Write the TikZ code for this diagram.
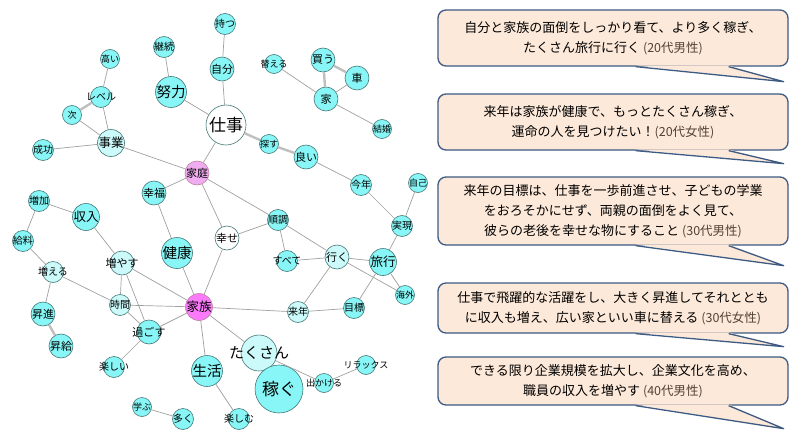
\documentclass[tikz,border=0pt]{standalone}
\usepackage{fontspec}
\setmainfont{Noto Sans CJK JP}
\usetikzlibrary{calc}
\definecolor{cyanfill}{RGB}{136,246,246}
\definecolor{palecyan}{RGB}{204,250,250}
\definecolor{nodeline}{RGB}{70,120,120}
\definecolor{rosefill}{RGB}{240,172,240}
\definecolor{magfill}{RGB}{250,122,250}
\definecolor{edgecol}{RGB}{160,160,160}
\definecolor{peach}{RGB}{253,233,217}
\definecolor{noteline}{RGB}{60,90,130}
\definecolor{tagcol}{RGB}{80,66,52}
\tikzstyle{word} = [circle, draw=nodeline, fill=cyanfill, inner sep=0pt, line width=0.6pt, execute at begin node={\hbox to 0pt\bgroup\hss}, execute at end node={\hss\egroup}]
\tikzstyle{w-a} = [minimum size=19pt, font=\fontsize{9}{10}\selectfont]
\tikzstyle{w-b} = [minimum size=21pt, font=\fontsize{10}{11}\selectfont]
\tikzstyle{w-c} = [minimum size=24pt, font=\fontsize{11}{12}\selectfont]
\tikzstyle{w-d} = [minimum size=27pt, font=\fontsize{12.5}{13}\selectfont]
\tikzstyle{w-e} = [minimum size=31pt, font=\fontsize{14.5}{15}\selectfont]
\tikzstyle{w-f} = [minimum size=36pt, font=\fontsize{15}{16}\selectfont]
\tikzstyle{w-g} = [minimum size=40pt, font=\fontsize{17}{18}\selectfont]
\tikzstyle{w-h} = [minimum size=48pt, font=\fontsize{17}{18}\selectfont]
\tikzstyle{pale} = [fill=palecyan]
\tikzstyle{blank} = [fill=white]
\tikzstyle{rose} = [fill=rosefill, draw=black!45!magenta!60]
\tikzstyle{mag} = [fill=magfill, draw=black!45!magenta!60]
\tikzstyle{line} = [draw, edgecol, line width=0.7pt]
\tikzstyle{strong} = [draw, black!25, line width=2.4pt]
\tikzstyle{note} = [rectangle, draw=noteline, fill=peach, line width=1.3pt, rounded corners=8pt, minimum width=350pt, align=center, font=\fontsize{13}{20}\selectfont]
\newcommand{\agetag}[1]{{\color{tagcol}\fontsize{12.5}{20}\selectfont(#1)}}
\newcommand{\calltip}[2]{%
  \fill [peach] ($(#1.south east)+(-153,-1.2)$) -- ($(#1.south east)+(-5,#2)$) -- ($(#1.south east)+(-60,-1.2)$) -- cycle;
  \draw [noteline, line width=1.3pt, line join=round] ($(#1.south east)+(-153,0)$) -- ($(#1.south east)+(-5,#2)$) -- ($(#1.south east)+(-60,0)$);}

\begin{document}
\begin{tikzpicture}[x=1pt, y=-1pt]
	\useasboundingbox (0,0) rectangle (793,439);
	% Upper left
	\node [word, w-a] (takai) at (110,59) {高い};
	\node [word, w-b] (level) at (101,97) {レベル};
	\node [word, w-a] (tsugi) at (72,115) {次};
	\node [word, w-d, pale] (jigyo) at (111,143) {事業};
	\node [word, w-b] (seiko) at (43,150) {成功};
	\node [word, w-b] (keizoku) at (164,47) {継続};
	\node [word, w-e] (doryoku) at (171,92) {努力};
	\node [word, w-b] (motsu) at (225,24) {持つ};
	\node [word, w-c] (jibun) at (222,69) {自分};
	\node [word, w-g, blank] (shigoto) at (226,125) {仕事};
	
	% Upper right
	\node [word, w-a] (kaeru) at (274,64) {替える};
	\node [word, w-c] (kau) at (323,60) {買う};
	\node [word, w-c] (kuruma) at (357,78) {車};
	\node [word, w-c] (ie) at (326,99) {家};
	\node [word, w-a] (kekkon) at (382,129) {結婚};
	\node [word, w-a] (sagasu) at (269,144) {探す};
	\node [word, w-c] (yoi) at (306,157) {良い};
	\node [word, w-b] (kotoshi) at (361,185) {今年};
	\node [word, w-a] (jiko) at (418,183) {自己};
	\node [word, w-b] (jitsugen) at (402,226) {実現};
	
	% Middle
	\node [word, w-c, rose] (katei) at (197,173) {家庭};
	\node [word, w-c] (kofuku) at (154,193) {幸福};
	\node [word, w-b] (juncho) at (278,220) {順調};
	\node [word, w-c, blank] (shiawase) at (227,238) {幸せ};
	\node [word, w-e] (kenko) at (177,253) {健康};
	\node [word, w-b] (subete) at (287,261) {すべて};
	\node [word, w-c, pale] (iku) at (337,257) {行く};
	\node [word, w-d] (ryoko) at (383,262) {旅行};
	\node [word, w-a] (kaigai) at (405,295) {海外};
	\node [word, w-b] (mokuhyo) at (354,308) {目標};
	\node [word, w-b, pale] (rainen) at (298,312) {来年};
	\node [word, w-d, mag] (kazoku) at (199,307) {家族};
	
	% Lower left
	\node [word, w-b] (zoka) at (39,201) {増加};
	\node [word, w-d] (shunyu) at (86,217) {収入};
	\node [word, w-b] (kyuryo) at (23,241) {給料};
	\node [word, w-b, pale] (fueru) at (53,272) {増える};
	\node [word, w-c, pale] (fuyasu) at (122,263) {増やす};
	\node [word, w-b, pale] (jikan) at (120,305) {時間};
	\node [word, w-c] (sugosu) at (149,332) {過ごす};
	\node [word, w-c] (shoshin) at (43,314) {昇進};
	\node [word, w-c] (shokyu) at (61,346) {昇給};
	\node [word, w-b] (tanoshii) at (114,367) {楽しい};
	\node [word, w-a] (manabu) at (142,407) {学ぶ};
	\node [word, w-b] (ooku) at (183,419) {多く};
	
	% Lower right
	\node [word, w-f, pale] (takusan) at (259,353) {たくさん};
	\node [word, w-h] (kasegu) at (279,389) {稼ぐ};
	\node [word, w-e] (seikatsu) at (207,371) {生活};
	\node [word, w-b] (tanoshimu) at (239,419) {楽しむ};
	\node [word, w-a] (dekakeru) at (324,383) {出かける};
	\node [word, w-a] (relax) at (366,365) {リラックス};
	
	% Paths
	\path [line] (takai) -- (level);
	\path [strong] (level) -- (tsugi);
	\path [line] (level) -- (jigyo);
	\path [line] (tsugi) -- (jigyo);
	\path [line] (seiko) -- (jigyo);
	\path [line] (jigyo) -- (katei);
	\path [line] (keizoku) -- (doryoku);
	\path [line] (doryoku) -- (shigoto);
	\path [line] (motsu) -- (jibun);
	\path [line] (jibun) -- (shigoto);
	\path [line] (shigoto) -- (katei);
	\path [strong] (shigoto) -- (sagasu);
	\path [strong] (sagasu) -- (yoi);
	\path [line] (yoi) -- (kotoshi);
	\path [line] (kotoshi) -- (jitsugen);
	\path [line] (jiko) -- (jitsugen);
	\path [line] (jitsugen) -- (ryoko);
	\path [line] (kaeru) -- (ie);
	\path [strong] (kau) -- (ie);
	\path [strong] (kau) -- (kuruma);
	\path [line] (kuruma) -- (ie);
	\path [line] (ie) -- (kekkon);
	\path [line] (katei) -- (kofuku);
	\path [line] (katei) -- (shiawase);
	\path [line] (katei) -- (juncho);
	\path [line] (kofuku) -- (kenko);
	\path [line] (shiawase) -- (juncho);
	\path [line] (shiawase) -- (kazoku);
	\path [line] (juncho) -- (subete);
	\path [line] (juncho) -- (iku);
	\path [line] (subete) -- (iku);
	\path [line] (iku) -- (ryoko);
	\path [line] (iku) -- (kaigai);
	\path [line] (iku) -- (rainen);
	\path [line] (ryoko) -- (kaigai);
	\path [line] (ryoko) -- (mokuhyo);
	\path [line] (mokuhyo) -- (rainen);
	\path [line] (rainen) -- (kazoku);
	\path [line] (kenko) -- (kazoku);
	\path [line] (kazoku) -- (fuyasu);
	\path [line] (kazoku) -- (jikan);
	\path [line] (kazoku) -- (sugosu);
	\path [line] (kazoku) -- (seikatsu);
	\path [line] (kazoku) -- (takusan);
	\path [line] (fuyasu) -- (shunyu);
	\path [line] (fuyasu) -- (jikan);
	\path [line] (fuyasu) -- (sugosu);
	\path [line] (jikan) -- (sugosu);
	\path [line] (jikan) -- (fueru);
	\path [line] (sugosu) -- (tanoshii);
	\path [line] (zoka) -- (shunyu);
	\path [line] (zoka) -- (kyuryo);
	\path [line] (kyuryo) -- (fueru);
	\path [line] (fueru) -- (shoshin);
	\path [strong] (shoshin) -- (shokyu);
	\path [line] (seikatsu) -- (tanoshimu);
	\path [line] (takusan) -- (dekakeru);
	\path [line] (dekakeru) -- (relax);
	\path [line] (manabu) -- (ooku);
	
	% Callouts
	\node [note, minimum height=56pt] (note1) at (613,38) {自分と家族の面倒をしっかり看て、より多く稼ぎ、\\たくさん旅行に行く \agetag{20代男性}};
	\calltip{note1}{15}
	\node [note, minimum height=56pt] (note2) at (613,122) {来年は家族が健康で、もっとたくさん稼ぎ、\\運命の人を見つけたい！\agetag{20代女性}};
	\calltip{note2}{13}
	\node [note, minimum height=68pt] (note3) at (613,211) {来年の目標は、仕事を一歩前進させ、子どもの学業\\をおろそかにせず、両親の面倒をよく見て、\\彼らの老後を幸せな物にすること \agetag{30代男性}};
	\calltip{note3}{20}
	\node [note, minimum height=50pt] (note4) at (613,308) {仕事で飛躍的な活躍をし、大きく昇進してそれととも\\に収入も増え、広い家といい車に替える \agetag{30代女性}};
	\calltip{note4}{13}
	\node [note, minimum height=48pt] (note5) at (613,381) {できる限り企業規模を拡大し、企業文化を高め、\\職員の収入を増やす \agetag{40代男性}};
	\calltip{note5}{23}
\end{tikzpicture}
\end{document}
